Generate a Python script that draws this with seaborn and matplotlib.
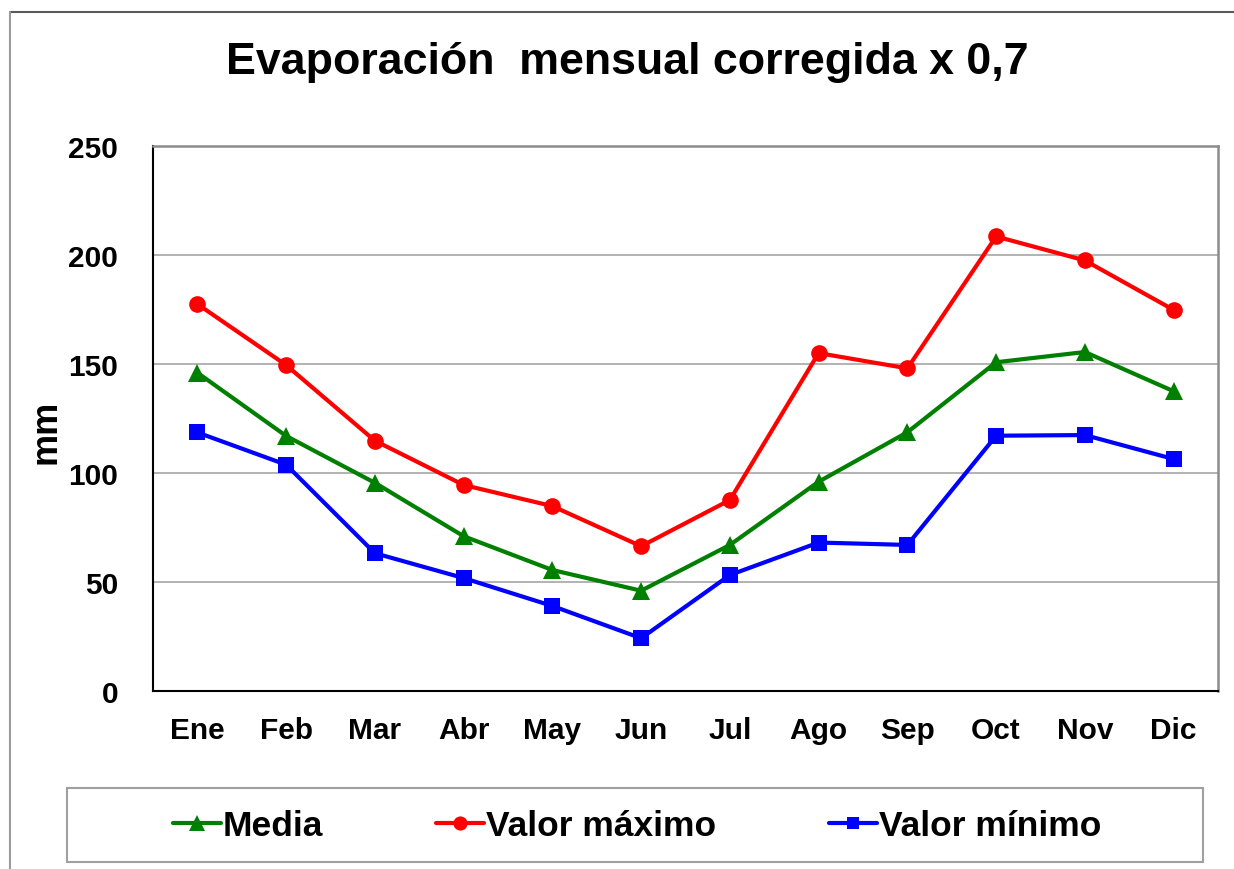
import matplotlib
matplotlib.use("Agg")
import matplotlib.pyplot as plt
from matplotlib.lines import Line2D
from matplotlib.patches import Rectangle
from matplotlib.ticker import FixedLocator
import seaborn as sns
import pandas as pd

# Monthly corrected evaporation (mm), pan value x 0.7
months = ["Ene", "Feb", "Mar", "Abr", "May", "Jun",
          "Jul", "Ago", "Sep", "Oct", "Nov", "Dic"]
media = [146.0, 117.0, 95.5, 71.0, 55.5, 46.0, 67.0, 96.0, 118.7, 150.8, 155.5, 137.5]
maximo = [177.5, 149.5, 114.8, 94.5, 84.8, 66.4, 87.6, 155.0, 148.0, 208.5, 197.5, 174.8]
minimo = [118.6, 103.8, 63.2, 51.8, 39.0, 24.2, 53.2, 68.1, 67.0, 117.1, 117.4, 106.4]
series_names = ["Media", "Valor máximo", "Valor mínimo"]
y_ticks = [0, 50, 100, 150, 200, 250]

sns.set_style("white")
plt.rcParams["font.family"] = ["Liberation Sans", "DejaVu Sans"]
plt.rcParams["font.weight"] = "bold"
plt.rcParams["text.color"] = "black"
plt.rcParams["axes.labelcolor"] = "black"
plt.rcParams["xtick.color"] = "black"
plt.rcParams["ytick.color"] = "black"

W, H = 1234, 870
fig = plt.figure(figsize=(W / 100, H / 100), dpi=100)
fig.patch.set_facecolor("white")

# plot area in pixels: x 153..1218, y 147..692
ax = fig.add_axes([153 / W, 1 - 692 / H, 1065 / W, 545 / H])

df = pd.DataFrame({"Mes": months, "Media": media,
                   "Valor máximo": maximo, "Valor mínimo": minimo})

styles = {
    "Media": dict(color="#008000", marker="^", markersize=13),
    "Valor máximo": dict(color="#FF0000", marker="o", markersize=12),
    "Valor mínimo": dict(color="#0000FF", marker="s", markersize=11),
}
for name in series_names:
    st = styles[name]
    sns.lineplot(data=df, x="Mes", y=name, ax=ax, sort=False,
                 color=st["color"], marker=st["marker"],
                 markersize=st["markersize"], markeredgewidth=0,
                 linewidth=3, label=name, legend=False, zorder=3)

ax.set_xlim(-0.5, len(months) - 0.5)
ax.set_ylim(0, 250)
ax.set_yticks(y_ticks)
ax.set_xticks(range(len(months)))
ax.set_xticklabels(months)
ax.xaxis.set_minor_locator(FixedLocator([i + 0.5 for i in range(-1, len(months))]))

ax.grid(False)
for v in y_ticks[1:-1]:
    ax.axhline(v, color="#a6a6a6", linewidth=1.2, zorder=1)

for side in ["left", "bottom"]:
    ax.spines[side].set_color("black")
    ax.spines[side].set_linewidth(1.5)
for side in ["top", "right"]:
    ax.spines[side].set_color("#8c8c8c")
    ax.spines[side].set_linewidth(1.8)

ax.tick_params(axis="y", which="major", direction="out", length=6, width=1.2,
               color="#404040", labelcolor="black", pad=19, labelsize=21.5)
ax.tick_params(axis="x", which="major", length=0, pad=18, labelsize=21.5,
               labelcolor="black")
ax.tick_params(axis="x", which="minor", direction="out", length=6, width=1.2,
               color="#404040")
for lab in ax.get_xticklabels() + ax.get_yticklabels():
    lab.set_fontweight("bold")

ax.set_xlabel("")
ax.set_ylabel("mm", fontsize=26, fontweight="bold", labelpad=0, color="black")
ax.yaxis.set_label_coords((63 - 153) / 1065, (692 - 432) / 545)

fig.text(627 / W, 1 - 74 / H, "Evaporación  mensual corregida x 0,7",
         ha="center", va="baseline", fontsize=32.2, fontweight="bold",
         color="black")

# outer chart frame (top and left edges)
fig.add_artist(Line2D([10 / W, 1], [1 - 13 / H, 1 - 13 / H],
                      transform=fig.transFigure, color="#5a5a5a", linewidth=1.5))
fig.add_artist(Line2D([10 / W, 10 / W], [0, 1 - 13 / H],
                      transform=fig.transFigure, color="#9a9a9a", linewidth=1.5))

# legend box
fig.add_artist(Rectangle((67 / W, 1 - 863 / H), (1203 - 67) / W, (863 - 789) / H,
                         transform=fig.transFigure, facecolor="white",
                         edgecolor="#a0a0a0", linewidth=1.5))

handles = [Line2D([], [], color=styles[n]["color"], marker=styles[n]["marker"],
                  markersize=styles[n]["markersize"] * 0.85, markeredgewidth=0,
                  linewidth=3) for n in series_names]
leg = fig.legend(handles, series_names, loc="center",
                 bbox_to_anchor=(637 / W, 1 - 827 / H), ncol=3, frameon=False,
                 handlelength=1.35, handletextpad=0.05, columnspacing=3.2,
                 prop={"size": 25.5, "weight": "bold"})
for t in leg.get_texts():
    t.set_color("black")

fig.savefig("out.png", dpi=100, facecolor="white")
